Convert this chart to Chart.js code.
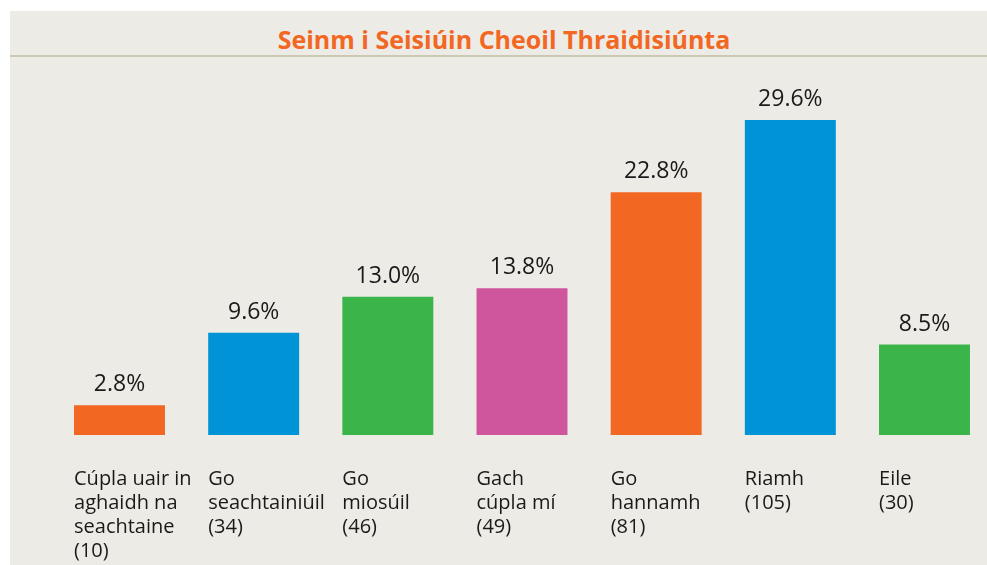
<!DOCTYPE html>
<html>
<head>
<meta charset="utf-8">
<script src="https://cdn.jsdelivr.net/npm/chart.js@4"></script>
<style>
  html, body { margin: 0; padding: 0; background: #fff; overflow: hidden; }
  body { width: 987px; height: 565px; position: relative; }
  #panel { position: absolute; left: 10px; top: 11px; right: 0; bottom: 0; background: #edebe6; }
  #rule { position: absolute; left: 10px; right: 0; top: 55px; height: 2px; background: #ccc8b1; }
  #title {
    position: absolute; left: 204px; width: 600px; top: 24px; text-align: center;
    font: bold 25px "Open Sans", sans-serif; color: #f26722; line-height: 30px;
  }
  #wrap { position: absolute; left: 0; top: 0; width: 1000px; height: 565px; }
</style>
</head>
<body>
<div id="panel"></div>
<div id="rule"></div>
<div id="title">Seinm i Seisiúin Cheoil Thraidisiúnta</div>
<div id="wrap"><canvas id="chart"></canvas></div>
<script>
const categories = [
  ["Cúpla uair in", "aghaidh na", "seachtaine", "(10)"],
  ["Go", "seachtainiúil", "(34)"],
  ["Go", "miosúil", "(46)"],
  ["Gach", "cúpla mí", "(49)"],
  ["Go", "hannamh", "(81)"],
  ["Riamh", "(105)"],
  ["Eile", "(30)"]
];
const percentages = [2.8, 9.6, 13.0, 13.8, 22.8, 29.6, 8.5];
const barColors = ["#f26722", "#0094d7", "#3bb54a", "#cf559d", "#f26722", "#0094d7", "#3bb54a"];

// etiketter ovanför och under staplarna
const labelPlugin = {
  id: "labels",
  afterDatasetsDraw(chart) {
    const ctx = chart.ctx;
    const bars = chart.getDatasetMeta(0).data;
    const base = chart.scales.y.getPixelForValue(0);
    ctx.save();
    ctx.fillStyle = "#1a1a1a";
    bars.forEach((bar, i) => {
      ctx.font = '23px "Open Sans", sans-serif';
      ctx.textAlign = "center";
      ctx.textBaseline = "alphabetic";
      ctx.fillText(percentages[i].toFixed(1) + "%", bar.x, bar.y - 14);

      ctx.font = '20px "Open Sans", sans-serif';
      ctx.textAlign = "left";
      const left = bar.x - bar.width / 2;
      categories[i].forEach((line, j) => {
        ctx.fillText(line, left, base + 50 + j * 24);
      });
    });
    ctx.restore();
  }
};

new Chart(document.getElementById("chart"), {
  type: "bar",
  data: {
    labels: categories,
    datasets: [{
      data: percentages,
      backgroundColor: barColors,
      borderWidth: 0,
      barPercentage: 0.678,
      categoryPercentage: 1
    }]
  },
  options: {
    responsive: true,
    maintainAspectRatio: false,
    animation: false,
    layout: { padding: { left: 52.42, right: 8.42, top: 94.46, bottom: 130 } },
    plugins: {
      legend: { display: false },
      tooltip: { enabled: false }
    },
    scales: {
      x: { display: false },
      y: { display: false, min: 0, max: 32 }
    }
  },
  plugins: [labelPlugin]
});
</script>
</body>
</html>
